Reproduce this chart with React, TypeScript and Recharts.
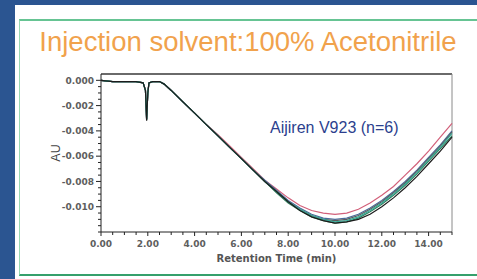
import React from 'react';
import { LineChart, Line, XAxis, YAxis, ReferenceLine } from 'recharts';

// retention time (min)
const time = [0, 0.5, 1.0, 1.5, 1.8, 1.9, 1.95, 2.0, 2.05, 2.2, 2.5, 2.7, 3.0, 3.5, 4.0, 4.5, 5.0, 5.5, 6.0, 6.5, 7.0, 7.5, 8.0, 8.5, 9.0, 9.5, 10.0, 10.5, 11.0, 11.5, 12.0, 12.5, 13.0, 13.5, 14.0, 14.5, 15.0];

// six injections (AU)
const run1 = [0.0000, -0.0001, -0.0001, -0.0001, -0.0002, -0.0008, -0.0032, -0.0010, -0.0002, -0.0001, -0.0001, -0.0003, -0.0008, -0.0017, -0.0026, -0.0035, -0.0044, -0.0053, -0.0062, -0.0071, -0.0080, -0.0088, -0.0096, -0.0103, -0.0108, -0.0111, -0.0113, -0.0112, -0.0110, -0.0106, -0.0100, -0.0093, -0.0085, -0.0076, -0.0066, -0.0056, -0.0045];
const run2 = [0.0000, -0.0001, -0.0001, -0.0001, -0.0002, -0.0008, -0.0031, -0.0010, -0.0002, -0.0001, -0.0001, -0.0003, -0.0008, -0.0017, -0.0026, -0.0035, -0.0043, -0.0052, -0.0061, -0.0070, -0.0079, -0.0086, -0.0093, -0.0099, -0.0103, -0.0105, -0.0106, -0.0105, -0.0102, -0.0097, -0.0091, -0.0084, -0.0075, -0.0066, -0.0056, -0.0045, -0.0034];
const run3 = [0.0000, -0.0001, -0.0001, -0.0001, -0.0002, -0.0008, -0.0031, -0.0010, -0.0002, -0.0001, -0.0001, -0.0003, -0.0008, -0.0017, -0.0026, -0.0035, -0.0044, -0.0053, -0.0062, -0.0071, -0.0080, -0.0088, -0.0096, -0.0102, -0.0107, -0.0110, -0.0112, -0.0111, -0.0108, -0.0103, -0.0097, -0.0090, -0.0082, -0.0073, -0.0063, -0.0053, -0.0042];
const run4 = [0.0000, -0.0001, -0.0001, -0.0001, -0.0002, -0.0008, -0.0031, -0.0010, -0.0002, -0.0001, -0.0001, -0.0003, -0.0008, -0.0017, -0.0026, -0.0035, -0.0044, -0.0053, -0.0062, -0.0071, -0.0080, -0.0089, -0.0097, -0.0103, -0.0108, -0.0111, -0.0113, -0.0112, -0.0109, -0.0104, -0.0098, -0.0091, -0.0083, -0.0074, -0.0064, -0.0054, -0.0044];
const run5 = [0.0000, -0.0001, -0.0001, -0.0001, -0.0002, -0.0008, -0.0031, -0.0010, -0.0002, -0.0001, -0.0001, -0.0003, -0.0008, -0.0017, -0.0026, -0.0035, -0.0044, -0.0053, -0.0062, -0.0071, -0.0079, -0.0087, -0.0095, -0.0101, -0.0106, -0.0109, -0.0110, -0.0109, -0.0106, -0.0101, -0.0095, -0.0088, -0.0080, -0.0071, -0.0061, -0.0051, -0.0040];
const run6 = [0.0000, -0.0001, -0.0001, -0.0001, -0.0002, -0.0008, -0.0031, -0.0010, -0.0002, -0.0001, -0.0001, -0.0003, -0.0008, -0.0017, -0.0026, -0.0035, -0.0044, -0.0053, -0.0062, -0.0071, -0.0080, -0.0088, -0.0096, -0.0102, -0.0107, -0.0110, -0.0111, -0.0110, -0.0107, -0.0102, -0.0096, -0.0089, -0.0081, -0.0072, -0.0062, -0.0052, -0.0041];

const runColors = ['#1c1c1c', '#d2607a', '#35a896', '#2e7d5a', '#4a6a9a', '#5a5a5a'];

const xTicks = [0, 0.5, 1, 1.5, 2, 2.5, 3, 3.5, 4, 4.5, 5, 5.5, 6, 6.5, 7, 7.5, 8, 8.5, 9, 9.5, 10, 10.5, 11, 11.5, 12, 12.5, 13, 13.5, 14, 14.5, 15];
const xMajor = [0, 2, 4, 6, 8, 10, 12, 14];
const yTicks = [0, -0.0005, -0.001, -0.0015, -0.002, -0.0025, -0.003, -0.0035, -0.004, -0.0045, -0.005, -0.0055, -0.006, -0.0065, -0.007, -0.0075, -0.008, -0.0085, -0.009, -0.0095, -0.01, -0.0105, -0.011, -0.0115, -0.012];
const yMajor = [0, -0.002, -0.004, -0.006, -0.008, -0.01];

const chartData = time.map((t, i) => ({
  t,
  r1: run1[i],
  r2: run2[i],
  r3: run3[i],
  r4: run4[i],
  r5: run5[i],
  r6: run6[i],
}));

const tickFont = { fontFamily: '"DejaVu Sans", sans-serif', fontSize: 9, fontWeight: 700, fill: '#5e5e5e' };

const isIn = (list: number[], v: number) => list.some((m) => Math.abs(m - v) < 1e-9);

const YTick = (props: any) => {
  const { x, y, payload } = props;
  const major = isIn(yMajor, payload.value);
  return (
    <g>
      <line x1={x - (major ? 5 : 3)} x2={x} y1={y} y2={y} stroke="#222" strokeWidth={1} />
      {major && (
        <text x={x - 7} y={y} dy={3.2} textAnchor="end" {...tickFont}>
          {payload.value.toFixed(3)}
        </text>
      )}
    </g>
  );
};

const XTick = (props: any) => {
  const { x, y, payload } = props;
  const major = isIn(xMajor, payload.value);
  return (
    <g>
      <line x1={x} x2={x} y1={y} y2={y + (major ? 4 : 3)} stroke="#222" strokeWidth={1} />
      {major && (
        <text x={x} y={y + 15} textAnchor="middle" {...tickFont}>
          {payload.value.toFixed(2)}
        </text>
      )}
    </g>
  );
};

export default function App() {
  return (
    <div style={{ position: 'fixed', left: 0, top: 0, width: 477, height: 279, background: '#2b5591', overflow: 'hidden', fontFamily: '"Liberation Sans", Arial, sans-serif' }}>
      <style>{'html, body { margin: 0; overflow: hidden; }'}</style>
      <div style={{ position: 'absolute', left: 15, top: 5, width: 480, height: 290, background: '#ffffff' }} />
      <div style={{ position: 'absolute', left: 19, top: 19, width: 480, height: 253, borderLeft: '1px solid #9ad8b2', borderTop: '2px solid #66c493', borderBottom: '2px solid #35a06c' }} />
      <div style={{ position: 'absolute', left: 0, top: 28, width: 496, textAlign: 'center', fontSize: 27.5, lineHeight: '27px', color: '#f1a24c', whiteSpace: 'nowrap' }}>
        Injection solvent:100% Acetonitrile
      </div>
      <div style={{ position: 'absolute', left: 0, top: 0 }}>
        <LineChart width={477} height={279} data={chartData} margin={{ top: 74, right: 25, bottom: 0, left: 0 }}>
          <XAxis
            dataKey="t"
            type="number"
            domain={[0, 15]}
            ticks={xTicks}
            interval={0}
            height={47}
            tickSize={0}
            tickMargin={0}
            tickLine={false}
            tick={<XTick />}
            stroke="#222"
            label={{ value: 'Retention Time (min)', position: 'insideBottom', offset: 17, style: { fontFamily: '"DejaVu Sans", sans-serif', fontSize: 10, fontWeight: 700, fill: '#555' } }}
          />
          <YAxis
            type="number"
            domain={[-0.012, 0.0005]}
            ticks={yTicks}
            interval={0}
            width={101}
            tickSize={0}
            tickMargin={0}
            tickLine={false}
            tick={<YTick />}
            stroke="#222"
            label={{ value: 'AU', angle: -90, position: 'center', dx: 5, style: { fontSize: 12.5, fill: '#444' } }}
          />
          <ReferenceLine y={0.0005} stroke="#6a6a6a" strokeWidth={2} />
          <ReferenceLine x={15} stroke="#8a8a8a" strokeWidth={1} />
          <Line dataKey="r2" stroke={runColors[1]} strokeWidth={1.2} dot={false} isAnimationActive={false} />
          <Line dataKey="r5" stroke={runColors[4]} strokeWidth={1.2} dot={false} isAnimationActive={false} />
          <Line dataKey="r6" stroke={runColors[5]} strokeWidth={1.2} dot={false} isAnimationActive={false} />
          <Line dataKey="r4" stroke={runColors[3]} strokeWidth={1.2} dot={false} isAnimationActive={false} />
          <Line dataKey="r3" stroke={runColors[2]} strokeWidth={1.2} dot={false} isAnimationActive={false} />
          <Line dataKey="r1" stroke={runColors[0]} strokeWidth={1.2} dot={false} isAnimationActive={false} />
        </LineChart>
      </div>
      <div style={{ position: 'absolute', left: 270, top: 119, fontSize: 16, lineHeight: '18px', color: '#2c3f8e', whiteSpace: 'nowrap' }}>
        Aijiren V923 (n=6)
      </div>
    </div>
  );
}
